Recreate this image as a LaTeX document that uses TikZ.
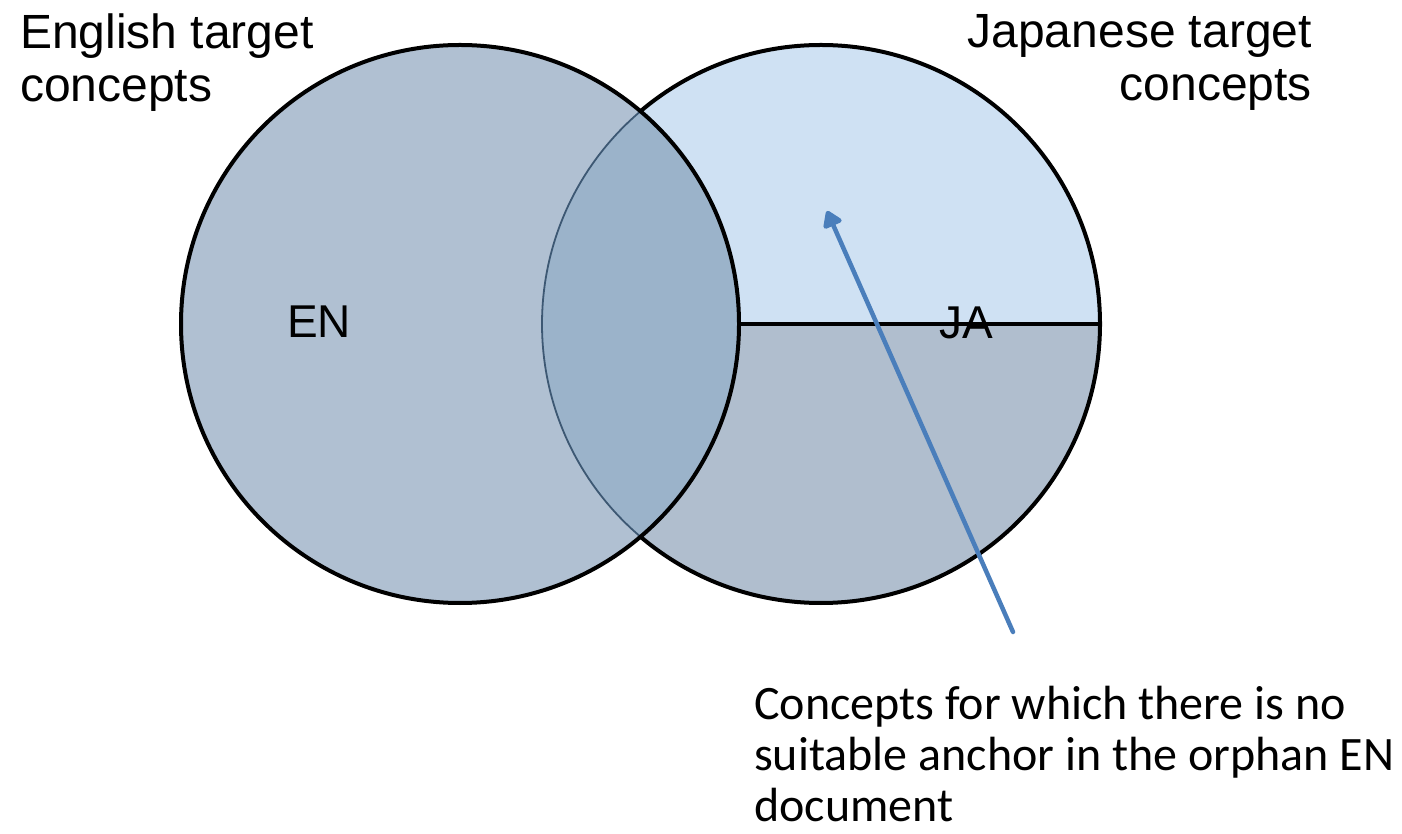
\documentclass[tikz,border=0pt]{standalone}
\usepackage{fontspec}
\setmainfont{Liberation Sans}
\newfontfamily\notefont{Carlito}
\usetikzlibrary{arrows.meta}
\definecolor{enfill}{HTML}{B0C0D2}
\definecolor{jaupper}{HTML}{CFE1F3}
\definecolor{jalower}{HTML}{B0BECE}
\definecolor{lensfill}{HTML}{9BB3CA}
\definecolor{lensedge}{HTML}{3D5873}
\definecolor{pointer}{HTML}{4A7EBB}
\tikzset{
  setcircle/.style={circle, minimum size=558pt, inner sep=0pt, outer sep=0pt},
  outline/.style={draw=black, line width=4pt},
  label/.style={font=\fontsize{46}{52}\selectfont, inner sep=0pt},
  heading/.style={font=\fontsize{48}{53}\selectfont, inner sep=0pt},
  note/.style={font=\notefont\fontsize{48}{51}\selectfont, align=left, inner sep=0pt},
  pointerline/.style={draw=pointer, line width=4.5pt, line cap=round,
    -{Triangle[length=18pt,width=22pt,round]}},
}
\begin{document}
\begin{tikzpicture}[x=1pt,y=1pt]
\useasboundingbox (0,0) rectangle (1402,833);
% the two sets
\node[setcircle] (L) at (460,509) {};
\node[setcircle] (R) at (821,509) {};

% Japanese set: light upper half, darker lower half
\fill[jaupper] (R.west) arc[start angle=180, end angle=0, radius=279pt] -- cycle;
\fill[jalower] (R.west) arc[start angle=180, end angle=360, radius=279pt] -- cycle;
\draw[outline] (R.center) circle[radius=279pt];
\draw[line width=3.5pt] (L.east) -- (R.east);

% English set on top, with the overlap shaded darker
\fill[enfill] (L.center) circle[radius=279pt];
\begin{scope}
  \clip (L.center) circle[radius=279pt];
  \fill[lensfill] (R.center) circle[radius=279pt];
  \draw[lensedge, line width=1.8pt] (R.center) circle[radius=279pt];
\end{scope}
\draw[outline] (L.center) circle[radius=279pt];

% set names
\node[label] (en) at (319,511) {EN};
\node[label] (ja) at (966,510) {JA};

% headings
\node[heading, anchor=north west, align=left] (enhead) at (20,819)
  {English target\\concepts};
\node[heading, anchor=north east, align=right] (jahead) at (1312,819)
  {Japanese target\\concepts};

% note with its pointer
\node[note, anchor=north west] (note) at (754,147)
  {Concepts for which there is no\\suitable anchor in the orphan EN\\document};
\coordinate (tail) at (1013,201);
\coordinate (tip) at (827,622);
\draw[pointerline] (tail) -- (tip);
\end{tikzpicture}
\end{document}
